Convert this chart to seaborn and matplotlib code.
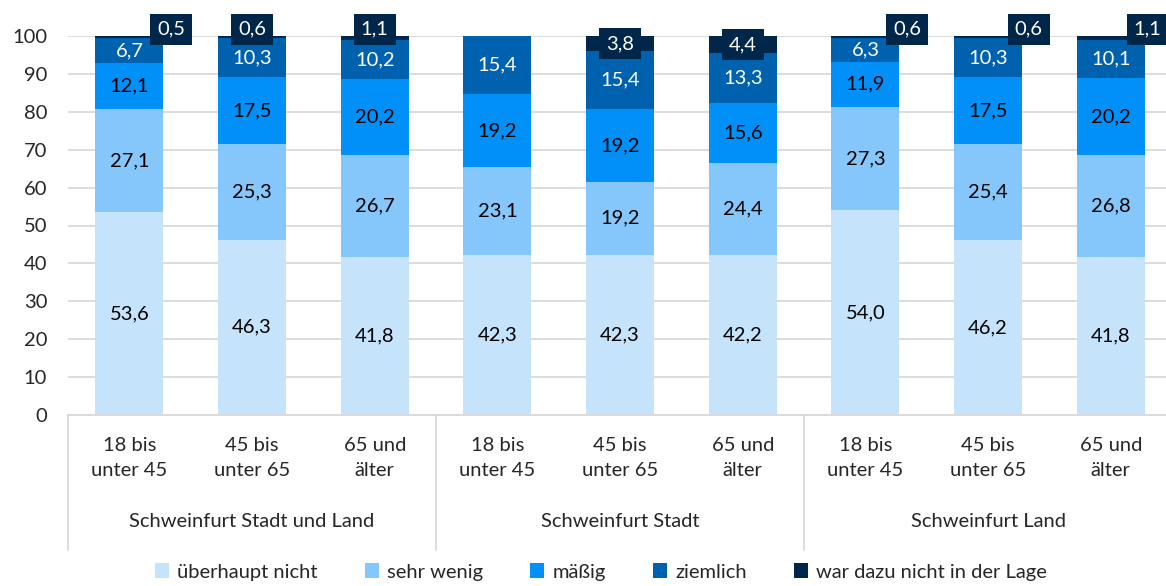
import matplotlib
matplotlib.use("Agg")
import pandas as pd
import matplotlib.pyplot as plt
import matplotlib.transforms as mtransforms
from matplotlib.patches import Patch
import seaborn as sns

# ── data ──────────────────────────────────────────────────────────────────────
regions = ["Schweinfurt Stadt und Land", "Schweinfurt Stadt", "Schweinfurt Land"]
ages = ["18 bis\nunter 45", "45 bis\nunter 65", "65 und\nälter"]
levels = ["überhaupt nicht", "sehr wenig", "mäßig", "ziemlich",
          "war dazu nicht in der Lage"]

ueberhaupt_nicht = [53.6, 46.3, 41.8, 42.3, 42.3, 42.2, 54.0, 46.2, 41.8]
sehr_wenig = [27.1, 25.3, 26.7, 23.1, 19.2, 24.4, 27.3, 25.4, 26.8]
maessig = [12.1, 17.5, 20.2, 19.2, 19.2, 15.6, 11.9, 17.5, 20.2]
ziemlich = [6.7, 10.3, 10.2, 15.4, 15.4, 13.3, 6.3, 10.3, 10.1]
nicht_in_lage = [0.5, 0.6, 1.1, 0.0, 3.8, 4.4, 0.6, 0.6, 1.1]

# ── style ─────────────────────────────────────────────────────────────────────
COLORS = ["#C5E3FB", "#85C7FA", "#0090F8", "#0062AE", "#00264A"]
TEXT_COLORS = ["black", "black", "black", "white", "white"]
GRID = "#D9D9D9"
FS = 14.5
# shift of the boxed top labels (in bar units), as placed in the original
TOP_NUDGE = [0.34, 0, 0, 0, 0, 0, 0.34, 0.33, 0.3]

sns.set_theme(style="white")
plt.rcParams["font.family"] = ["Lato", "DejaVu Sans"]

series = [ueberhaupt_nicht, sehr_wenig, maessig, ziemlich, nicht_in_lage]
bars = [str(i) for i in range(len(ueberhaupt_nicht))]
df = pd.DataFrame({"bar": bars})
for lvl, vals in zip(levels, series):
    df[lvl] = vals
cum = df[levels].cumsum(axis=1)
cum["bar"] = bars

fig = plt.figure(figsize=(11.66, 5.86), dpi=100)
ax = fig.add_axes([68 / 1166, 1 - 415 / 586, 1 - 68 / 1166, 379 / 586])

# stacked bars: draw cumulative totals from the top segment down
for k in reversed(range(len(levels))):
    sns.barplot(data=cum, x="bar", y=levels[k], order=bars, color=COLORS[k],
                saturation=1, width=0.555, errorbar=None, linewidth=0, ax=ax)

ax.set_xlim(-0.5, 8.45)
ax.set_ylim(0, 100)
ax.set_yticks(range(0, 101, 10))
ax.tick_params(axis="y", length=0, pad=15, labelsize=FS)
ax.tick_params(axis="x", length=0, labelbottom=False)
ax.set_xlabel("")
ax.set_ylabel("")
ax.grid(axis="y", color=GRID, linewidth=1.3)
ax.set_axisbelow(True)
for s in ["top", "right", "left"]:
    ax.spines[s].set_visible(False)
ax.spines["bottom"].set_color(GRID)
ax.spines["bottom"].set_linewidth(1.3)

# data labels
for i in range(len(bars)):
    base = 0
    for k, lvl in enumerate(levels):
        v = df[lvl].iloc[i]
        mid = base + v / 2
        base += v
        if v <= 0:
            continue
        label = f"{v:.1f}".replace(".", ",")
        if k == len(levels) - 1:
            y = mid if v >= 2 else 101.8
            ax.text(i + TOP_NUDGE[i], y, label, ha="center", va="center",
                    fontsize=FS, color="white", clip_on=False, zorder=6,
                    bbox=dict(boxstyle="square,pad=0.35", fc=COLORS[k], ec="none"))
        else:
            ax.text(i, mid, label, ha="center", va="center", fontsize=FS,
                    color=TEXT_COLORS[k], zorder=5)

# two-level category axis
trans = mtransforms.blended_transform_factory(ax.transData, ax.transAxes)
for i in range(len(bars)):
    ax.text(i, -0.113, ages[i % 3], transform=trans, ha="center", va="center",
            fontsize=FS, linespacing=1.6, clip_on=False)
for g, reg in enumerate(regions):
    ax.text(g * 3 + 1, -0.28, reg, transform=trans, ha="center", va="center",
            fontsize=FS, clip_on=False)
for xb in [-0.5, 2.5, 5.5]:
    ax.plot([xb, xb], [0, -0.356], transform=trans, color=GRID, lw=1.3,
            clip_on=False)

handles = [Patch(facecolor=c, edgecolor="none", label=l) for c, l in zip(COLORS, levels)]
fig.legend(handles=handles, loc="center", bbox_to_anchor=(601 / 1166, 1 - 572 / 586),
           ncol=5, frameon=False, fontsize=FS, handlelength=0.7, handleheight=0.7,
           handletextpad=0.4, columnspacing=2.35)

fig.savefig("out.png", dpi=100)
plt.close(fig)
